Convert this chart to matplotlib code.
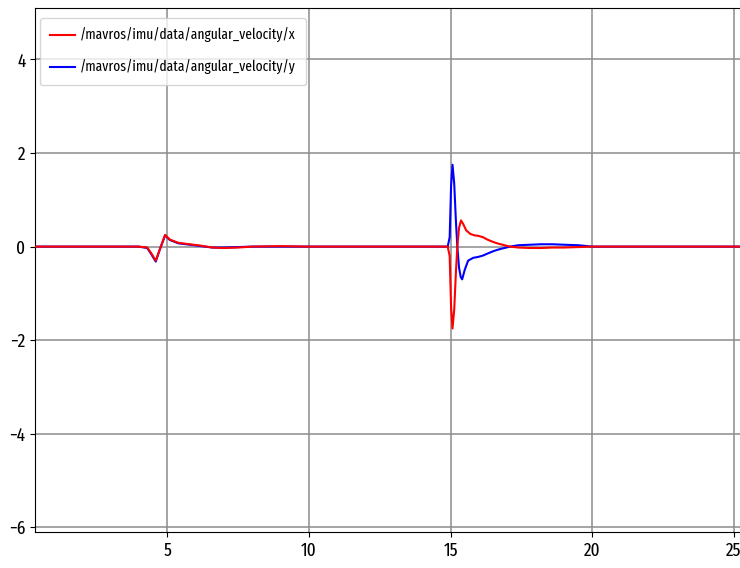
import matplotlib.pyplot as plt

# Time stamps (s) and values
time_x = [0.3, 1.0, 2.0, 3.0, 4.0, 4.3, 4.45, 4.6, 4.75, 4.93, 5.1, 5.4, 5.8, 6.2, 6.6, 7.0,
          7.5, 8.0, 9.0, 10.0, 11.0, 12.0, 13.0, 14.0, 14.9, 14.97, 15.02, 15.07, 15.13,
          15.19, 15.24, 15.3, 15.37, 15.45, 15.55, 15.7, 15.85, 15.98, 16.15, 16.3, 16.5,
          16.7, 16.9, 17.1, 17.4, 17.8, 18.2, 18.6, 19.0, 19.5, 20.0, 21.0, 22.0, 23.0,
          24.0, 25.5]
vel_x = [0.0, 0.0, 0.0, 0.0, 0.0, -0.02, -0.15, -0.3, -0.05, 0.25, 0.15, 0.08, 0.05, 0.02,
         -0.02, -0.03, -0.02, 0.0, 0.01, 0.0, 0.0, 0.0, 0.0, 0.0, 0.0, -0.2, -1.3, -1.75,
         -1.35, -0.55, 0.0, 0.4, 0.56, 0.48, 0.35, 0.27, 0.24, 0.23, 0.2, 0.15, 0.1, 0.06,
         0.03, 0.0, -0.02, -0.03, -0.03, -0.02, -0.02, -0.01, 0.0, 0.0, 0.0, 0.0, 0.0, 0.0]

time_y = [0.3, 1.0, 2.0, 3.0, 4.0, 4.3, 4.45, 4.6, 4.75, 4.93, 5.1, 5.4, 5.8, 6.2, 6.6, 7.0,
          7.5, 8.0, 9.0, 10.0, 11.0, 12.0, 13.0, 14.0, 14.9, 14.97, 15.02, 15.07, 15.13,
          15.19, 15.24, 15.3, 15.36, 15.41, 15.5, 15.62, 15.8, 15.98, 16.15, 16.3, 16.5,
          16.7, 16.9, 17.1, 17.4, 17.8, 18.2, 18.6, 19.0, 19.5, 20.0, 21.0, 22.0, 23.0,
          24.0, 25.5]
vel_y = [0.0, 0.0, 0.0, 0.0, 0.0, -0.03, -0.17, -0.32, -0.05, 0.24, 0.14, 0.07, 0.04, 0.01,
         -0.02, -0.02, -0.01, 0.0, 0.0, 0.0, 0.0, 0.0, 0.0, 0.0, 0.0, 0.2, 1.3, 1.75,
         1.35, 0.55, 0.0, -0.45, -0.65, -0.7, -0.5, -0.3, -0.24, -0.22, -0.19, -0.15, -0.1,
         -0.06, -0.03, 0.0, 0.03, 0.04, 0.05, 0.05, 0.04, 0.03, 0.0, 0.0, 0.0, 0.0, 0.0, 0.0]

labels = ["/mavros/imu/data/angular_velocity/x", "/mavros/imu/data/angular_velocity/y"]
x_ticks = [5, 10, 15, 20, 25]
y_ticks = [-6, -4, -2, 0, 2, 4]

# the reference text is squeezed sideways, so use a narrow face
plt.rcParams["font.family"] = ["Fira Sans Extra Condensed", "DejaVu Sans"]
plt.rcParams["font.size"] = 13.5

fig = plt.figure(figsize=(7.4, 5.68), dpi=100)
# axes runs off the right edge of the picture, like the reference
ax = fig.add_axes([35 / 740, 36 / 568, 712 / 740, 524 / 568])

# red sits on top of blue in the reference
ax.plot(time_x, vel_x, color="red", lw=1.5, label=labels[0], zorder=3)
ax.plot(time_y, vel_y, color="blue", lw=1.5, label=labels[1], zorder=2)

ax.set_xlim(0.34, 25.46)
ax.set_ylim(-6.1, 5.1)
ax.set_xticks(x_ticks)
ax.set_yticks(y_ticks)
ax.grid(True, color="#8c8c8c", lw=1.1)
ax.legend(loc="upper left", bbox_to_anchor=(5 / 712, 1 - 10 / 524), borderaxespad=0,
          fontsize=10.5, handlelength=1.7, handletextpad=0.35,
          labelspacing=1.15, borderpad=0.7)

plt.savefig("out.png")
